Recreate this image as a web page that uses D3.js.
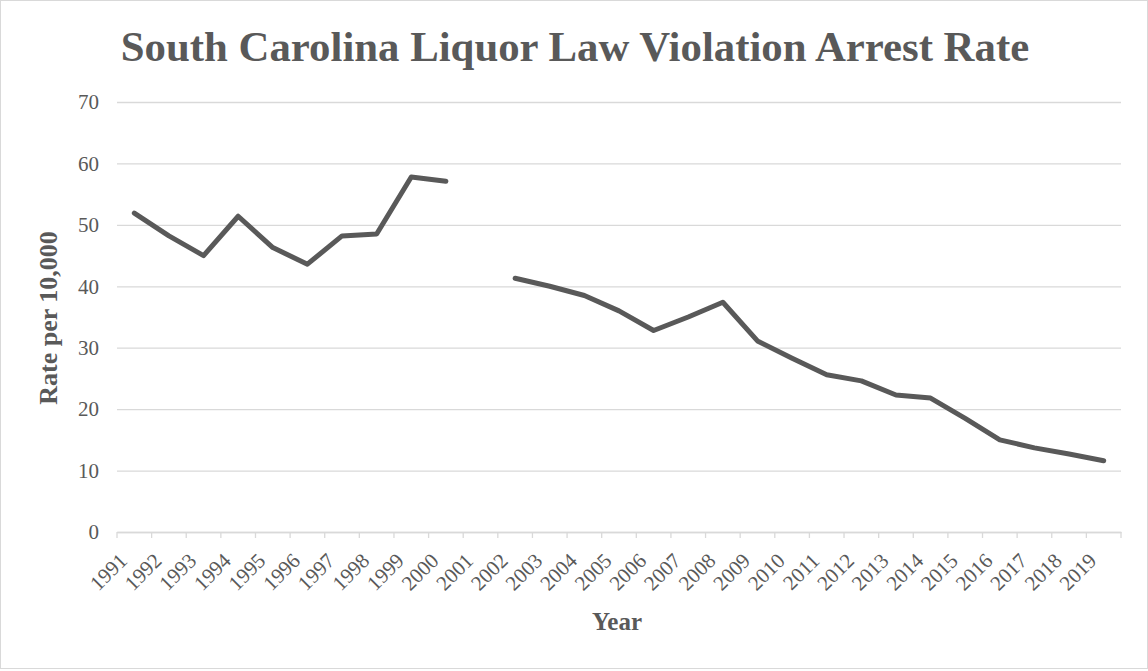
<!DOCTYPE html>
<html>
<head>
<meta charset="utf-8">
<script src="https://cdn.jsdelivr.net/npm/d3@7"></script>
<style>
  body { margin: 0; background: #fff; }
  text { font-family: "Liberation Serif", "Times New Roman", serif; fill: #595959; }
</style>
</head>
<body>
<div id="chart"></div>
<script>
// Datos
const years = ['1991','1992','1993','1994','1995','1996','1997','1998','1999','2000',
  '2001','2002','2003','2004','2005','2006','2007','2008','2009','2010',
  '2011','2012','2013','2014','2015','2016','2017','2018','2019'];
const rates = [51.9, 48.2, 45.0, 51.4, 46.3, 43.6, 48.2, 48.5, 57.8, 57.1,
  null, 41.3, 40.0, 38.5, 36.0, 32.8, 35.0, 37.4, 31.1, 28.3,
  25.6, 24.6, 22.3, 21.8, 18.5, 15.0, 13.7, 12.7, 11.6];
const yTicks = [0, 10, 20, 30, 40, 50, 60, 70];

const W = 1148, H = 671;
const margin = {top: 102, right: 27, bottom: 139, left: 117};
const width = W - margin.left - margin.right,
      height = H - margin.top - margin.bottom;

const svg = d3.select('#chart').append('svg')
    .attr('width', W).attr('height', H);

// Borde del área del gráfico
svg.append('rect')
    .attr('x', 0.5).attr('y', 0.5)
    .attr('width', W - 1).attr('height', H - 3)
    .attr('fill', '#fff').attr('stroke', '#d9d9d9');

const chart = svg.append('g')
    .attr('transform', 'translate(' + margin.left + ',' + margin.top + ')');

const x = d3.scaleBand().domain(years).range([0, width]);
const y = d3.scaleLinear().domain([0, 70]).range([height, 0]);

// Eje Y con líneas de cuadrícula
chart.append('g')
    .call(d3.axisLeft(y).tickValues(yTicks).tickSize(-width).tickPadding(18))
    .call(g => g.select('.domain').remove())
    .call(g => g.selectAll('.tick line').attr('stroke', '#d9d9d9').attr('stroke-width', 1.3))
    .call(g => g.selectAll('.tick text')
        .style('font-size', '21px').attr('fill', '#595959').attr('dy', '0.32em'));

// Eje X
const xAxis = chart.append('g')
    .attr('transform', 'translate(0,' + height + ')')
    .call(d3.axisBottom(x).tickSize(0).tickPadding(0));
xAxis.select('.domain').attr('stroke', '#d9d9d9').attr('stroke-width', 1.3);
xAxis.selectAll('.tick line').remove();
xAxis.selectAll('.tick text')
    .style('font-size', '21px').attr('fill', '#595959')
    .attr('text-anchor', 'end')
    .attr('dy', null)
    .attr('transform', 'translate(-6,30) rotate(-45)');

// Marcas de separación entre categorías
const bounds = years.map(d => x(d)).concat([width]);
chart.append('g').selectAll('line')
    .data(bounds)
    .enter().append('line')
    .attr('x1', d => d).attr('x2', d => d)
    .attr('y1', height).attr('y2', height + 6)
    .attr('stroke', '#d9d9d9').attr('stroke-width', 1.3);

// Línea de datos
const data = years.map((d, i) => ({year: d, value: rates[i]}));
const line = d3.line()
    .defined(d => d.value !== null)
    .x(d => x(d.year) + x.bandwidth() / 2)
    .y(d => y(d.value));

chart.append('path')
    .datum(data)
    .attr('fill', 'none')
    .attr('stroke', '#595959')
    .attr('stroke-width', 5)
    .attr('stroke-linejoin', 'round')
    .attr('stroke-linecap', 'round')
    .attr('d', line);

// Títulos
svg.append('text')
    .attr('x', 575).attr('y', 61)
    .attr('text-anchor', 'middle')
    .style('font-size', '42.8px').style('font-weight', 'bold')
    .text('South Carolina Liquor Law Violation Arrest Rate');

svg.append('text')
    .attr('transform', 'translate(57,318) rotate(-90)')
    .attr('text-anchor', 'middle')
    .style('font-size', '26px').style('font-weight', 'bold')
    .text('Rate per 10,000');

svg.append('text')
    .attr('x', 617).attr('y', 630)
    .attr('text-anchor', 'middle')
    .style('font-size', '25px').style('font-weight', 'bold')
    .text('Year');
</script>
</body>
</html>
